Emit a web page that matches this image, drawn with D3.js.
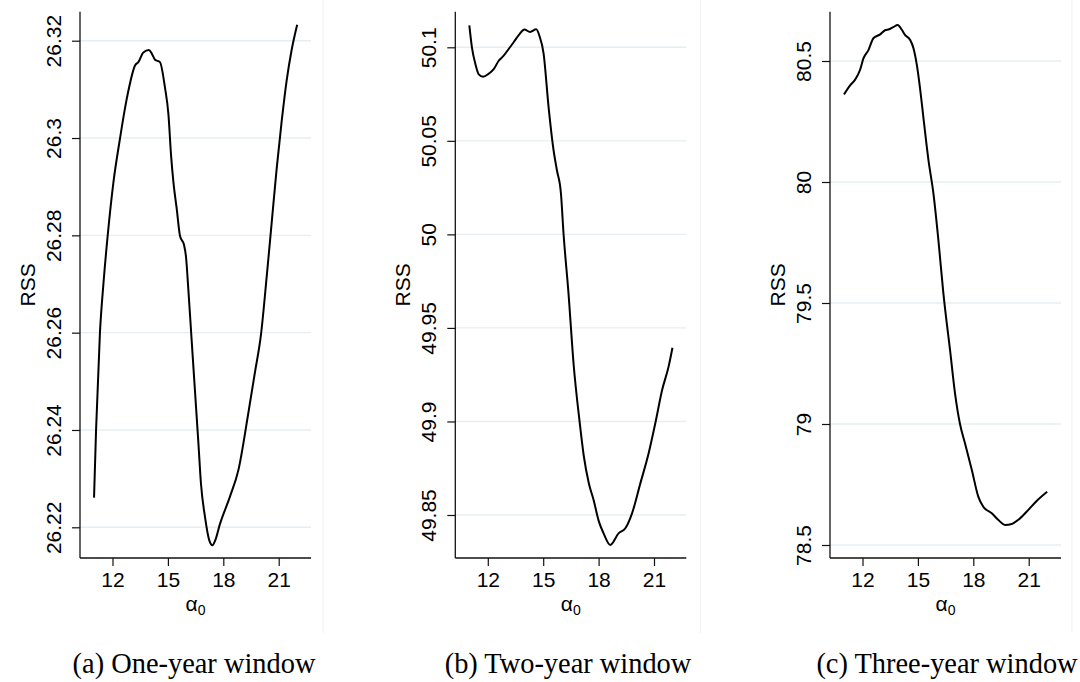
<!DOCTYPE html>
<html>
<head>
<meta charset="utf-8">
<script src="https://cdn.jsdelivr.net/npm/d3@7"></script>
<style>
  html, body { margin: 0; padding: 0; background: #ffffff; }
  svg { display: block; }
</style>
</head>
<body>
<svg id="chart" width="1080" height="682"></svg>
<script>
// RSS profile over the starting value alpha_0, for three estimation windows.

const xTicks = [12, 15, 18, 21];

// (a) One-year window
const alphaA = [11.00, 11.11, 11.32, 11.51, 11.74, 12.05, 12.41, 12.68, 12.86, 13.22,
                13.40, 13.67, 13.97, 14.12, 14.30, 14.57, 14.84, 15.03, 15.17, 15.30,
                15.48, 15.66, 15.87, 15.98, 16.11, 16.29, 16.47, 16.65, 16.79, 17.01,
                17.25, 17.41, 17.55, 17.82, 18.36, 18.82, 19.36, 19.72, 20.04, 20.35,
                20.62, 20.89, 21.16, 21.43, 21.70, 22.00];
const rssA = [26.2261, 26.2400, 26.2600, 26.2701, 26.2800, 26.2909, 26.3000, 26.3062, 26.3097, 26.3149,
              26.3156, 26.3176, 26.3181, 26.3174, 26.3161, 26.3156, 26.3104, 26.3048, 26.2965, 26.2909,
              26.2854, 26.2798, 26.2781, 26.2756, 26.2687, 26.2582, 26.2478, 26.2374, 26.2290, 26.2221,
              26.2172, 26.2163, 26.2172, 26.2207, 26.2263, 26.2318, 26.2436, 26.2520, 26.2596, 26.2715,
              26.2826, 26.2937, 26.3034, 26.3118, 26.3181, 26.3233];
const yTicksA = [26.22, 26.24, 26.26, 26.28, 26.3, 26.32];

// (b) Two-year window
const alphaB = [11.00, 11.14, 11.33, 11.51, 11.74, 12.05, 12.32, 12.59, 12.86, 13.13,
                13.40, 13.73, 13.98, 14.29, 14.62, 14.80, 15.02, 15.29, 15.56, 15.74,
                15.96, 16.10, 16.37, 16.65, 16.97, 17.20, 17.47, 17.73, 18.00, 18.27,
                18.63, 19.08, 19.45, 19.81, 20.26, 20.71, 21.07, 21.44, 21.79, 22.00];
const rssB = [50.1117, 50.1000, 50.0910, 50.0855, 50.0843, 50.0859, 50.0883, 50.0928, 50.0955, 50.0991,
              50.1027, 50.1072, 50.1095, 50.1082, 50.1096, 50.1060, 50.0968, 50.0682, 50.0451, 50.0344,
              50.0220, 50.0006, 49.9685, 49.9302, 49.9000, 49.8814, 49.8670, 49.8580, 49.8470, 49.8402,
              49.8340, 49.8402, 49.8429, 49.8509, 49.8669, 49.8830, 49.8990, 49.9168, 49.9293, 49.9394];
const yTicksB = [49.85, 49.9, 49.95, 50, 50.05, 50.1];

// (c) Three-year window
const alphaC = [11.00, 11.33, 11.61, 11.87, 12.05, 12.32, 12.59, 12.96, 13.22, 13.44,
                13.67, 13.91, 14.12, 14.31, 14.58, 14.76, 14.94, 15.12, 15.30, 15.57,
                15.84, 16.11, 16.38, 16.74, 17.01, 17.28, 17.55, 17.92, 18.27, 18.54,
                19.00, 19.36, 19.72, 20.08, 20.53, 20.98, 21.43, 22.00];
const rssC = [80.362, 80.399, 80.424, 80.464, 80.511, 80.545, 80.594, 80.610, 80.627, 80.631,
              80.640, 80.649, 80.630, 80.607, 80.587, 80.553, 80.485, 80.385, 80.265, 80.091,
              79.953, 79.760, 79.540, 79.306, 79.127, 79.000, 78.920, 78.810, 78.700, 78.658,
              78.631, 78.603, 78.583, 78.587, 78.610, 78.645, 78.682, 78.720];
const yTicksC = [78.5, 79, 79.5, 80, 80.5];

const captions = ["(a) One-year window", "(b) Two-year window", "(c) Three-year window"];

// Layout of the three panels
const panels = [
  { alpha: alphaA, rss: rssA, yTicks: yTicksA, axisX: 80,    yLo: 527.3, yHi: 40.7, edge: 323,   capX: 194 },
  { alpha: alphaB, rss: rssB, yTicks: yTicksB, axisX: 455.3, yLo: 515,   yHi: 47.3, edge: 700.5, capX: 568 },
  { alpha: alphaC, rss: rssC, yTicks: yTicksC, axisX: 830,   yLo: 545,   yHi: 61,   edge: 1072,  capX: 947 }
];

const plotTop = 11.7, plotBottom = 558, plotWidth = 231;
const svg = d3.select("#chart");
const sans = "'Liberation Sans', Arial, Helvetica, sans-serif";

panels.forEach((p, i) => {
  const left = p.axisX, right = p.axisX + plotWidth;
  const x = d3.scaleLinear().domain([12, 21]).range([left + 32.5, left + 198.7]);
  const yT = p.yTicks;
  const y = d3.scaleLinear().domain([yT[0], yT[yT.length - 1]]).range([p.yLo, p.yHi]);

  const g = svg.append("g");

  // faint frame edge of each sub-graph
  g.append("line")
    .attr("x1", p.edge).attr("x2", p.edge).attr("y1", 0).attr("y2", 633)
    .attr("stroke", "#f1f3f4").attr("stroke-width", 1.2);

  // horizontal grid
  g.selectAll("line.grid").data(yT).enter().append("line")
    .attr("class", "grid")
    .attr("x1", left).attr("x2", right)
    .attr("y1", d => y(d)).attr("y2", d => y(d))
    .attr("stroke", "#e7eef2").attr("stroke-width", 1.4);

  // y axis
  const yAxis = d3.axisLeft(y).tickValues(yT).tickSize(8).tickSizeOuter(0).tickFormat(d => String(d));
  const ya = g.append("g").attr("transform", `translate(${left},0)`).call(yAxis);
  ya.select(".domain").remove();
  ya.selectAll(".tick line").attr("stroke", "#111").attr("stroke-width", 1.2);
  ya.selectAll(".tick text")
    .attr("x", 0).attr("dy", null)
    .attr("transform", "translate(-19,0) rotate(-90)")
    .attr("text-anchor", "middle")
    .attr("fill", "#000")
    .style("font-family", sans).style("font-size", "21px");

  // x axis
  const xAxis = d3.axisBottom(x).tickValues(xTicks).tickSize(8).tickSizeOuter(0).tickFormat(d => String(d));
  const xa = g.append("g").attr("transform", `translate(0,${plotBottom})`).call(xAxis);
  xa.select(".domain").remove();
  xa.selectAll(".tick line").attr("stroke", "#111").attr("stroke-width", 1.2);
  xa.selectAll(".tick text")
    .attr("y", 29).attr("dy", null)
    .attr("fill", "#000")
    .style("font-family", sans).style("font-size", "21px");

  // axis lines
  g.append("line").attr("x1", left).attr("x2", left).attr("y1", plotTop).attr("y2", plotBottom)
    .attr("stroke", "#111").attr("stroke-width", 1.3);
  g.append("line").attr("x1", left).attr("x2", right).attr("y1", plotBottom).attr("y2", plotBottom)
    .attr("stroke", "#111").attr("stroke-width", 1.3);

  // RSS curve
  const pts = p.alpha.map((a, k) => [a, p.rss[k]]);
  g.append("path")
    .datum(pts)
    .attr("fill", "none")
    .attr("stroke", "#000")
    .attr("stroke-width", 2)
    .attr("stroke-linejoin", "round")
    .attr("d", d3.line().x(d => x(d[0])).y(d => y(d[1])).curve(d3.curveMonotoneX));

  // axis titles
  g.append("text")
    .attr("transform", `translate(${left - 45},${(plotTop + plotBottom) / 2}) rotate(-90)`)
    .attr("text-anchor", "middle")
    .style("font-family", sans).style("font-size", "21px")
    .text("RSS");

  const xt = g.append("text")
    .attr("x", left + plotWidth / 2).attr("y", 611)
    .attr("text-anchor", "middle")
    .style("font-family", sans).style("font-size", "21px");
  xt.append("tspan").text("α");
  xt.append("tspan").attr("dy", 4).style("font-size", "14px").text("0");

  // sub-caption
  svg.append("text")
    .attr("x", p.capX).attr("y", 673)
    .attr("text-anchor", "middle")
    .style("font-family", "'Liberation Serif', 'Times New Roman', serif")
    .style("font-size", "28.4px")
    .text(captions[i]);
});
</script>
</body>
</html>
